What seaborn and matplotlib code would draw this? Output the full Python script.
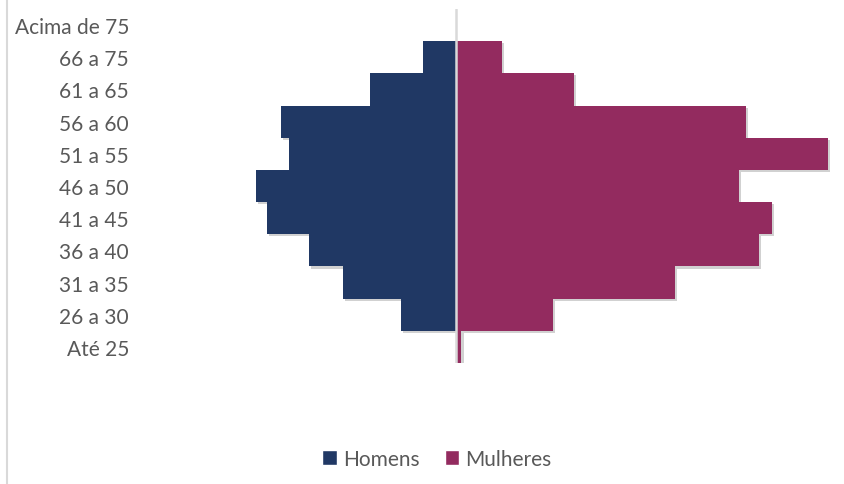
import matplotlib
matplotlib.use("Agg")
import matplotlib.pyplot as plt
import matplotlib.patheffects as pe
from matplotlib.lines import Line2D
from matplotlib.patches import Patch
import seaborn as sns
import pandas as pd

# faixas etarias, de cima para baixo
faixas = ["Acima de 75", "66 a 75", "61 a 65", "56 a 60", "51 a 55", "46 a 50",
          "41 a 45", "36 a 40", "31 a 35", "26 a 30", "Até 25"]
homens = [0, 10, 26, 53, 50.5, 60.5, 57, 44.5, 34, 16.5, 0]
mulheres = [0, 14, 36, 88, 113, 86, 96, 92, 66.5, 29.5, 1.8]

cor_h = "#203864"
cor_m = "#932B5F"
cinza_txt = "#595959"

df = pd.concat([
    pd.DataFrame({"faixa": faixas, "valor": [-v for v in homens], "sexo": "Homens"}),
    pd.DataFrame({"faixa": faixas, "valor": mulheres, "sexo": "Mulheres"}),
])

sns.set_style("white")
plt.rcParams["font.family"] = ["Lato", "DejaVu Sans"]

fig = plt.figure(figsize=(8.45, 4.85), dpi=100)
W, H = 845, 485
# area do grafico em pixels
ax = fig.add_axes([138.7 / W, 1 - 364 / H, (835 - 138.7) / W, (364 - 10) / H])

sns.barplot(data=df, y="faixa", x="valor", hue="sexo", order=faixas,
            palette={"Homens": cor_h, "Mulheres": cor_m}, dodge=False, saturation=1,
            width=1.0, orient="h", legend=False, ax=ax, errorbar=None)

for p in ax.patches:
    p.set_linewidth(0)
    p.set_path_effects([pe.SimplePatchShadow(offset=(1.5, -1.5), alpha=0.18, shadow_rgbFace="black"),
                        pe.Normal()])

ax.axvline(0, color="#D9D9D9", lw=1.8, zorder=5)
ax.set_xlim(-96, 115)
ax.set_ylim(10.5, -0.5)
sns.despine(ax=ax, left=True, bottom=True)
ax.set_xticks([])
ax.set_xlabel("")
ax.set_ylabel("")
ax.tick_params(axis="y", length=0, pad=7, labelsize=15, labelcolor=cinza_txt)

handles = [Patch(facecolor=cor_h, label="Homens"), Patch(facecolor=cor_m, label="Mulheres")]
fig.legend(handles=handles, loc="center", bbox_to_anchor=(0.517, 1 - 460 / H), ncol=2,
           frameon=False, fontsize=15, labelcolor=cinza_txt, handlelength=0.7,
           handleheight=0.7, handletextpad=0.3, columnspacing=1.2)

fig.add_artist(Line2D([7 / W, 7 / W], [0, 1], color="#D9D9D9", lw=1.5, transform=fig.transFigure))

fig.savefig("out.png", dpi=100)
